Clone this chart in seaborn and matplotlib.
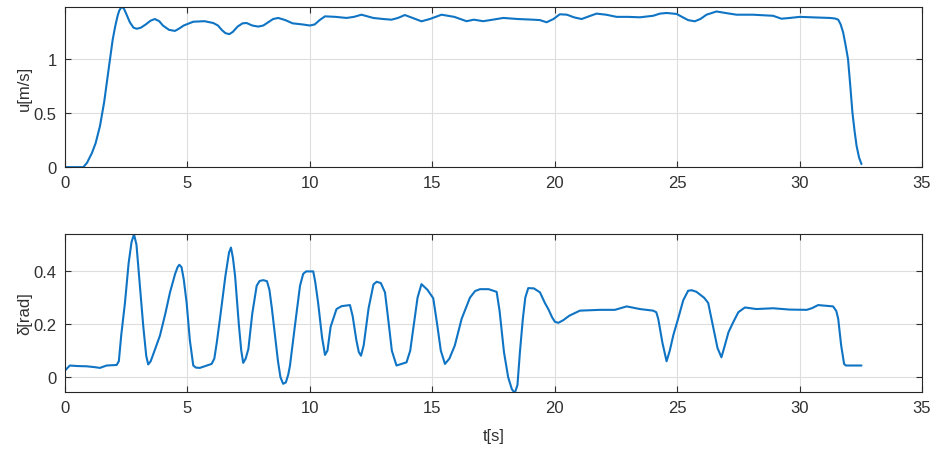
import numpy as np
import pandas as pd
import matplotlib
matplotlib.use("Agg")
import matplotlib.pyplot as plt
import seaborn as sns

# speed u [m/s]
t_u = [0.0, 0.4, 0.75, 0.9, 1.1, 1.25, 1.43, 1.6, 1.72, 1.84, 1.95, 2.05, 2.15, 2.22,
       2.31, 2.4, 2.5, 2.65, 2.8, 2.93, 3.1, 3.3, 3.5, 3.67, 3.85, 4.0, 4.25, 4.49,
       4.65, 4.85, 5.24, 5.7, 6.06, 6.25, 6.4, 6.55, 6.71, 6.85, 7.05, 7.25, 7.42,
       7.65, 7.89, 8.1, 8.3, 8.5, 8.71, 9.0, 9.3, 9.7, 10.0, 10.2, 10.4, 10.62,
       11.05, 11.5, 11.8, 12.11, 12.59, 13.0, 13.34, 13.6, 13.88, 14.2, 14.56,
       14.9, 15.38, 15.9, 16.4, 16.7, 17.08, 17.5, 17.9, 18.5, 19.12, 19.4, 19.67,
       19.95, 20.21, 20.5, 20.8, 21.1, 21.4, 21.71, 22.1, 22.53, 23.0, 23.48,
       24.02, 24.3, 24.57, 24.98, 25.2, 25.45, 25.72, 25.95, 26.2, 26.61, 27.0,
       27.43, 28.1, 28.92, 29.26, 29.6, 30.01, 30.6, 31.24, 31.45, 31.58, 31.68,
       31.78, 31.88, 31.98, 32.07, 32.16, 32.25, 32.33, 32.43, 32.53]
u = [0.0, 0.0, 0.0, 0.04, 0.13, 0.22, 0.38, 0.6, 0.8, 1.0, 1.18, 1.3, 1.4, 1.45,
     1.48, 1.47, 1.42, 1.34, 1.29, 1.28, 1.29, 1.32, 1.355, 1.37, 1.35, 1.31,
     1.27, 1.26, 1.28, 1.31, 1.345, 1.35, 1.333, 1.31, 1.27, 1.24, 1.23, 1.25,
     1.3, 1.33, 1.333, 1.31, 1.3, 1.31, 1.34, 1.37, 1.38, 1.36, 1.33, 1.32, 1.31,
     1.32, 1.36, 1.395, 1.39, 1.38, 1.39, 1.41, 1.38, 1.37, 1.364, 1.38, 1.407,
     1.38, 1.349, 1.37, 1.41, 1.39, 1.35, 1.364, 1.35, 1.365, 1.38, 1.37, 1.364,
     1.36, 1.34, 1.37, 1.414, 1.41, 1.385, 1.37, 1.395, 1.42, 1.41, 1.39, 1.39,
     1.386, 1.40, 1.42, 1.426, 1.417, 1.39, 1.36, 1.349, 1.37, 1.41, 1.44,
     1.425, 1.41, 1.41, 1.40, 1.373, 1.38, 1.39, 1.385, 1.38, 1.375, 1.364,
     1.32, 1.247, 1.13, 1.0, 0.76, 0.506, 0.33, 0.197, 0.09, 0.028]

# steering angle delta [rad]
t_d = [0.0, 0.2, 0.5, 0.89, 1.2, 1.43, 1.7, 2.11, 2.2, 2.3, 2.45, 2.6, 2.72, 2.82,
       2.92, 3.06, 3.2, 3.32, 3.40, 3.5, 3.6, 3.88, 4.1, 4.29, 4.5, 4.6, 4.67, 4.76,
       4.85, 4.97, 5.1, 5.24, 5.35, 5.51, 5.99, 6.1, 6.2, 6.33, 6.55, 6.7, 6.78,
       6.86, 6.95, 7.1, 7.2, 7.28, 7.38, 7.49, 7.65, 7.83, 7.95, 8.10, 8.25, 8.35,
       8.45, 8.58, 8.7, 8.8, 8.91, 9.02, 9.12, 9.19, 9.4, 9.60, 9.73, 9.85, 10.14,
       10.22, 10.34, 10.5, 10.62, 10.72, 10.85, 11.09, 11.3, 11.64, 11.75, 11.9,
       12.0, 12.09, 12.2, 12.4, 12.6, 12.73, 12.9, 13.07, 13.2, 13.35, 13.54,
       13.95, 14.1, 14.25, 14.4, 14.56, 14.8, 15.04, 15.2, 15.35, 15.52, 15.7,
       15.92, 16.2, 16.54, 16.75, 16.95, 17.3, 17.63, 17.75, 17.93, 18.1, 18.25,
       18.37, 18.48, 18.58, 18.7, 18.8, 18.92, 19.15, 19.4, 19.6, 19.74, 19.9,
       20.01, 20.15, 20.35, 20.6, 21.03, 21.85, 22.46, 22.94, 23.48, 24.02, 24.15,
       24.23, 24.4, 24.57, 24.7, 24.85, 25.04, 25.25, 25.45, 25.6, 25.79, 26.1,
       26.27, 26.45, 26.65, 26.81, 26.95, 27.1, 27.29, 27.5, 27.77, 28.24, 28.92,
       29.6, 30.29, 30.5, 30.76, 31.37, 31.5, 31.58, 31.7, 31.82, 31.89, 32.2,
       32.53]
delta = [0.025, 0.044, 0.042, 0.041, 0.038, 0.035, 0.044, 0.046, 0.06, 0.16, 0.28,
         0.43, 0.51, 0.539, 0.5, 0.345, 0.19, 0.08, 0.048, 0.06, 0.085, 0.157, 0.24,
         0.32, 0.39, 0.415, 0.424, 0.415, 0.37, 0.28, 0.14, 0.044, 0.036, 0.035,
         0.05, 0.07, 0.13, 0.22, 0.38, 0.47, 0.489, 0.45, 0.38, 0.2, 0.1, 0.054,
         0.07, 0.106, 0.24, 0.345, 0.363, 0.366, 0.362, 0.33, 0.26, 0.157, 0.06,
         0.0, -0.025, -0.02, 0.01, 0.044, 0.2, 0.345, 0.39, 0.399, 0.399, 0.36,
         0.28, 0.15, 0.084, 0.1, 0.19, 0.257, 0.268, 0.272, 0.23, 0.14, 0.095,
         0.081, 0.12, 0.26, 0.35, 0.36, 0.355, 0.32, 0.22, 0.1, 0.044, 0.056, 0.1,
         0.2, 0.3, 0.351, 0.33, 0.298, 0.2, 0.1, 0.05, 0.07, 0.119, 0.22, 0.30,
         0.325, 0.332, 0.332, 0.322, 0.25, 0.094, 0.0, -0.045, -0.06, -0.03, 0.094,
         0.22, 0.3, 0.336, 0.335, 0.32, 0.28, 0.257, 0.225, 0.209, 0.205, 0.215,
         0.232, 0.251, 0.254, 0.254, 0.267, 0.257, 0.251, 0.245, 0.22, 0.13, 0.06,
         0.1, 0.16, 0.22, 0.29, 0.326, 0.328, 0.322, 0.3, 0.28, 0.2, 0.11, 0.075,
         0.12, 0.17, 0.207, 0.245, 0.263, 0.257, 0.26, 0.255, 0.254, 0.26, 0.272,
         0.267, 0.25, 0.22, 0.12, 0.05, 0.044, 0.044, 0.044]

df_u = pd.DataFrame({"t": t_u, "u": u})
df_d = pd.DataFrame({"t": t_d, "delta": delta})

sns.set_style("whitegrid")
plt.rcParams["font.family"] = ["Liberation Sans", "DejaVu Sans"]

line_color = "#0F74C4"
text_color = "#303030"

fig = plt.figure(figsize=(9.36, 4.52), dpi=100)
ax1 = fig.add_axes([0.0694, 0.628, 0.9156, 0.354])
ax2 = fig.add_axes([0.0694, 0.1305, 0.9156, 0.3495])

sns.lineplot(data=df_u, x="t", y="u", ax=ax1, color=line_color, linewidth=1.5,
             estimator=None, sort=False)
sns.lineplot(data=df_d, x="t", y="delta", ax=ax2, color=line_color, linewidth=1.5,
             estimator=None, sort=False)

ax1.set_xlim(0, 35)
ax1.set_ylim(0, 1.48)
ax1.set_yticks([0, 0.5, 1])
ax1.set_yticklabels(["0", "0.5", "1"])
ax1.set_xlabel("")
ax1.set_ylabel("u[m/s]", fontsize=12, color=text_color, labelpad=1)

ax2.set_xlim(0, 35)
ax2.set_ylim(-0.056, 0.54)
ax2.set_yticks([0, 0.2, 0.4])
ax2.set_yticklabels(["0", "0.2", "0.4"])
ax2.set_xlabel("t[s]", fontsize=12, color=text_color, labelpad=9)
ax2.set_ylabel("δ[rad]", fontsize=12, color=text_color, labelpad=1)

for ax in (ax1, ax2):
    ax.set_xticks([0, 5, 10, 15, 20, 25, 30, 35])
    ax.grid(True, color="#dedede", linewidth=0.8)
    ax.set_facecolor("white")
    for s in ax.spines.values():
        s.set_visible(True)
        s.set_color("#262626")
        s.set_linewidth(0.8)
    ax.tick_params(axis="both", direction="in", length=4, width=0.8,
                   colors=text_color, labelsize=12, top=True, right=True,
                   bottom=True, left=True, pad=6)

fig.savefig("out.png", dpi=100)
